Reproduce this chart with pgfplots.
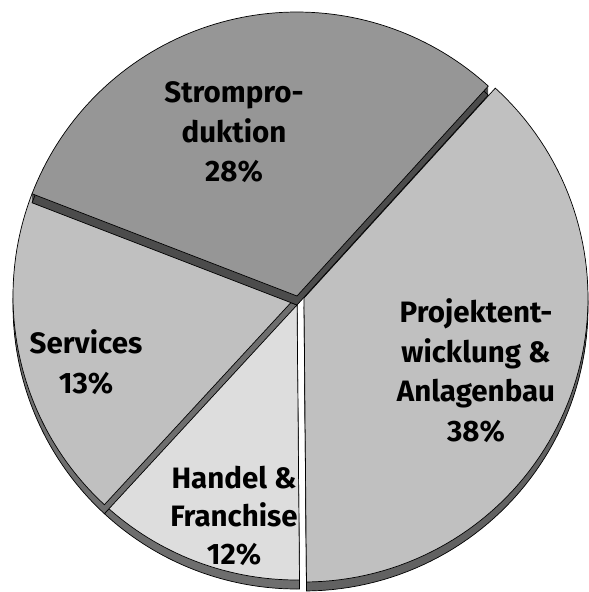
\documentclass[border=0pt]{standalone}
\usepackage{pgfplots}
\pgfplotsset{compat=1.18}
\usepackage{pgfplotstable}
\usepackage{fontspec}
\setmainfont{Fira Sans}
% slice shares as drawn (percent of the full circle)
\pgfplotstableread{
name      share
Projekt   38.1
Strom     30.9
Services  19.0
Handel    12.0
}\piedata
\pgfplotstablegetelem{0}{share}\of\piedata \let\sA\pgfplotsretval
\pgfplotstablegetelem{1}{share}\of\piedata \let\sB\pgfplotsretval
\pgfplotstablegetelem{2}{share}\of\piedata \let\sC\pgfplotsretval
\pgfplotstablegetelem{3}{share}\of\piedata \let\sD\pgfplotsretval
\def\cx{297}\def\cy{296}\def\R{284}
\pgfmathsetmacro{\aA}{270.5}
\pgfmathsetmacro{\aB}{\aA+3.6*\sA}
\pgfmathsetmacro{\aC}{\aB+3.6*\sB}
\pgfmathsetmacro{\aD}{\aC+3.6*\sC}
\pgfmathsetmacro{\aE}{\aD+3.6*\sD}
\definecolor{cStrom}{HTML}{969696}
\definecolor{cMid}{HTML}{C0C0C0}
\definecolor{cHandel}{HTML}{DDDDDD}
\definecolor{rStrom}{HTML}{4C4C4C}
\definecolor{rMid}{HTML}{6E6E6E}
\definecolor{rProj}{HTML}{626262}
% #1 start, #2 end, #3 face colour, #4 rim colour, #5 dx, #6 dy
\newcommand{\slice}[6]{%
  \pgfplotsinvokeforeach{1,2,3,4,5,6,7,8}{%
    \addplot[fill=#4, draw=none, domain=#1:#2, samples=80]
      ({\cx+#5+\R*cos(x)},{\cy+#6+##1-\R*sin(x)}) -- (axis cs:{\cx+#5},{\cy+#6+##1}) -- cycle;
  }
  \addplot[fill=#4, draw=black, line width=0.7pt, domain=#1:#2, samples=80]
    ({\cx+#5+\R*cos(x)},{\cy+#6+9-\R*sin(x)}) -- (axis cs:{\cx+#5},{\cy+#6+9}) -- cycle;
  \addplot[fill=#3, draw=black, line width=0.7pt, domain=#1:#2, samples=80]
    ({\cx+#5+\R*cos(x)},{\cy+#6-\R*sin(x)}) -- (axis cs:{\cx+#5},{\cy+#6}) -- cycle;
}
\begin{document}
\begin{tikzpicture}
\begin{axis}[
  scale only axis, width=588pt, height=592pt,
  xmin=0, xmax=588, ymin=0, ymax=592, y dir=reverse,
  hide axis, clip=false,
]
\slice{\aA}{\aB}{cMid}{rProj}{7}{2}
\slice{\aD}{\aE}{cHandel}{rMid}{0}{0}
\slice{\aC}{\aD}{cMid}{rMid}{0}{0}
\slice{\aB}{\aC}{cStrom}{rStrom}{0}{0}
\begin{scope}[every node/.style={anchor=base, font=\fontsize{29.5}{34}\selectfont\bfseries, inner sep=0pt}]
\node at (axis cs:234,102) {Strompro-};
\node at (axis cs:234,142) {duktion};
\node at (axis cs:234,181) {28\%};
\node at (axis cs:476,322) {Projektent-};
\node at (axis cs:476,362) {wicklung \&};
\node at (axis cs:476,401) {Anlagenbau};
\node at (axis cs:476,441) {38\%};
\node at (axis cs:86,353) {Services};
\node at (axis cs:86,393) {13\%};
\node at (axis cs:234,488) {Handel \&};
\node at (axis cs:234,526) {Franchise};
\node at (axis cs:234,564) {12\%};
\end{scope}
\end{axis}
\path (0,0) rectangle (588pt,592pt);
\end{tikzpicture}
\end{document}
